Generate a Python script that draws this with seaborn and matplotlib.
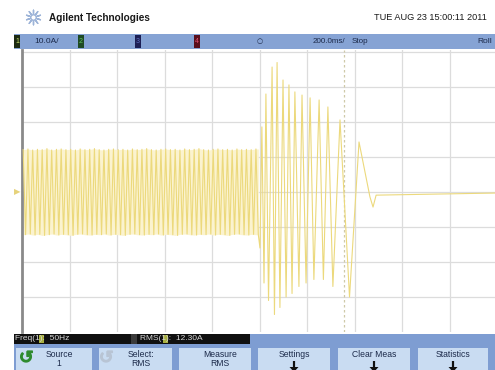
import numpy as np
import pandas as pd
import matplotlib
matplotlib.use("Agg")
import matplotlib.pyplot as plt
from matplotlib.patches import Rectangle, FancyArrow
import seaborn as sns

# ---------------- data ----------------
# steady 50 Hz current before the event: alternating peak / trough values (A)
steady_peaks = [12.1, 12.3, 12.0, 12.2, 12.1, 12.4, 12.0, 12.2, 12.3, 12.1,
                12.2, 12.0, 12.3, 12.1, 12.2, 12.4, 12.1, 12.0, 12.2, 12.3,
                12.1, 12.2, 12.0, 12.3, 12.1, 12.2, 12.4, 12.1, 12.0, 12.2,
                12.3, 12.1, 12.2, 12.0, 12.3, 12.1, 12.2, 12.4, 12.1, 12.0,
                12.2, 12.3, 12.1, 12.2, 12.0, 12.3, 12.1, 12.2, 12.1, 12.3]
steady_troughs = [-12.2, -12.0, -12.3, -12.1, -12.4, -12.2, -12.0, -12.3, -12.1, -12.2,
                  -12.4, -12.1, -12.0, -12.2, -12.3, -12.1, -12.2, -12.0, -12.3, -12.1,
                  -12.2, -12.4, -12.1, -12.0, -12.2, -12.3, -12.1, -12.2, -12.0, -12.3,
                  -12.1, -12.2, -12.4, -12.1, -12.0, -12.2, -12.3, -12.1, -12.2, -12.0,
                  -12.3, -12.1, -12.2, -12.4, -12.1, -12.0, -12.2, -12.3, -12.1, -12.2]
steady_start_ms = -995
half_period_ms = 10

# surge / run-down after the trigger (t = 0 ms): time (ms) and current (A)
surge_t = [2, 10, 19, 27, 38, 53, 63, 74, 86, 99, 112, 124, 137, 149, 166,
           179, 196, 213, 229, 251, 269, 288, 309, 339, 379, 419, 465, 478,
           491, 991]
surge_i = [-16.0, 18.6, -26.0, 28.0, -31.0, 35.7, -35.0, 37.0, -33.0, 32.0,
           -30.0, 30.6, -29.0, 28.6, -27.0, 27.7, -26.0, 26.9, -25.0, 26.3,
           -25.0, 24.3, -27.0, 20.6, -30.0, 14.3, -1.4, -4.3, -0.9, -0.3]

top_labels = ["10.0A/", "200.0ms/", "Stop", "Roll"]
buttons = [("Source", "1"), ("Select:", "RMS"), ("Measure", "RMS"),
           ("Settings", None), ("Clear Meas", None), ("Statistics", None)]

# ---------------- build trace ----------------
st_t, st_i = [], []
for k in range(len(steady_peaks)):
    st_t += [steady_start_ms + 2 * k * half_period_ms,
             steady_start_ms + (2 * k + 1) * half_period_ms]
    st_i += [steady_peaks[k], steady_troughs[k]]
df = pd.DataFrame({"t": st_t + surge_t, "i": st_i + surge_i})

# ---------------- figure ----------------
W, H = 495, 370
fig = plt.figure(figsize=(W / 100, H / 100), dpi=100)
fig.patch.set_facecolor("white")
FONT = ["Liberation Sans Narrow", "Liberation Sans", "DejaVu Sans"]
NAVY = "#1c2a4a"

deco = fig.add_axes([0, 0, 1, 1])
deco.set_xlim(0, W)
deco.set_ylim(H, 0)
deco.axis("off")

# header
deco.scatter([33], [17], marker=(10, 2, 0), s=110, color="#9DB4D8", lw=1.0)
deco.scatter([33], [17], marker="o", s=14, facecolor="white", edgecolor="#9DB4D8", lw=0.8)
deco.text(49, 18, "Agilent Technologies", fontsize=7.2, fontweight="bold",
          family=FONT, color="#1a1a1a", va="center")
deco.text(487, 18, "TUE AUG 23 15:00:11 2011", fontsize=6.6, family=FONT,
          color="#1a1a1a", va="center", ha="right")

# top status bar
deco.add_patch(Rectangle((14, 34), W - 14, 15, color="#86A3D4", lw=0))
deco.add_patch(Rectangle((14, 35), 6, 13, color="#1d2a12", lw=0))
deco.text(17, 41.5, "1", fontsize=5, color="#c8e070", ha="center", va="center", family=FONT)
deco.text(34, 41.5, top_labels[0], fontsize=6.0, color=NAVY, va="center", family=FONT)
for x0, col, lab, tc in [(78, "#1f4a24", "2", "#60c060"), (135, "#1c1f55", "3", "#6070c0"),
                         (194, "#5a0f1c", "4", "#e05070")]:
    deco.add_patch(Rectangle((x0, 35), 6, 13, color=col, lw=0))
    deco.text(x0 + 3, 41.5, lab, fontsize=5, color=tc, ha="center", va="center", family=FONT)
deco.text(260, 41.5, "\u25cb", fontsize=5, color=NAVY, ha="center", va="center")
deco.text(345, 41.5, top_labels[1], fontsize=5.8, color=NAVY, va="center", ha="right", family=FONT)
deco.text(352, 41.5, top_labels[2], fontsize=5.8, color=NAVY, va="center", family=FONT)
deco.text(477, 41.5, top_labels[3], fontsize=6.0, color=NAVY, va="center", family=FONT)

# bottom measurement strip + softkeys
deco.add_patch(Rectangle((14, 344), W - 14, H - 344, color="#7E9DD2", lw=0))
deco.add_patch(Rectangle((250, 334), W - 250, 10, color="#7E9DD2", lw=0))
deco.add_patch(Rectangle((14, 334), 117, 10, color="#101010", lw=0))
deco.add_patch(Rectangle((131, 334), 6, 10, color="#3a3a3a", lw=0))
deco.add_patch(Rectangle((137, 334), 113, 10, color="#101010", lw=0))
deco.add_patch(Rectangle((39, 335), 5, 8, color="#a8b040", lw=0))
deco.text(15, 339, "Freq(1):  50Hz", fontsize=6.0, color="#d8d8d8", va="center", family=FONT)
deco.add_patch(Rectangle((163, 335), 5, 8, color="#a8b040", lw=0))
deco.text(140, 339, "RMS(1):  12.30A", fontsize=6.0, color="#d8d8d8", va="center", family=FONT)

btn_x = [(16, 92), (99, 172), (179, 251), (258, 330), (338, 410), (418, 488)]
for (x0, x1), (l1, l2) in zip(btn_x, buttons):
    deco.add_patch(Rectangle((x0, 348), x1 - x0, H - 348, color="#C9DCF2", lw=0))
    cx = (x0 + x1) / 2 + (5 if x0 < 250 else 0)
    deco.text(cx, 354.5, l1, fontsize=6.2, color=NAVY, ha="center", va="center", family=FONT)
    if l2 is not None:
        deco.text(cx, 364, l2, fontsize=6.2, color=NAVY, ha="center", va="center", family=FONT)
    else:
        deco.add_patch(FancyArrow(cx, 361, 0, 6, width=2.2, head_width=9,
                                  head_length=5, color="#111111", lw=0))
deco.scatter([26], [356], marker=r"$\circlearrowleft$", s=70, color="#2e8b2e")
deco.scatter([106], [356], marker=r"$\circlearrowleft$", s=70, color="#b8c4d4")

# ---------------- scope screen ----------------
x_left, x_right, y_top, y_bot = 22, W, 50, 332
ax = fig.add_axes([x_left / W, (H - y_bot) / H, (x_right - x_left) / W, (y_bot - y_top) / H])
px_per_ms = 0.2375
px_per_A = 3.5
ax.set_xlim(-1000, -1000 + (x_right - x_left) / px_per_ms)
ax.set_ylim(-40, -40 + (y_bot - y_top) / px_per_A)
ax.set_facecolor("white")
for v in range(-800, 1000, 200):
    ax.axvline(v, color="#DCDCDC", lw=0.9, zorder=0)
for h in range(-30, 50, 10):
    ax.axhline(h, color="#DCDCDC", lw=0.9, zorder=0)
ax.axvline(356, color="#CFC9A8", lw=0.9, ls=(0, (2, 2)), zorder=1)

# persistence glow of the dense steady band
pk_t = st_t[0::2]
ax.fill_between(pk_t + [st_t[-1]], steady_peaks + [steady_peaks[-1]],
                steady_troughs + [steady_troughs[-1]], color="#FBF3CF", lw=0, zorder=2)

sns.lineplot(data=df, x="t", y="i", sort=False, estimator=None, ax=ax,
             color="#ECD97C", lw=0.8, zorder=3)

for s in ["top", "right", "bottom"]:
    ax.spines[s].set_visible(False)
ax.spines["left"].set_color("#8a8a8a")
ax.spines["left"].set_linewidth(2)
ax.set_xticks([])
ax.set_yticks([])
ax.set_xlabel("")
ax.set_ylabel("")

# ground reference marker
deco.text(17, 192, "\u25b6", fontsize=6, color="#E6D27A", ha="center", va="center")

fig.savefig("out.png", dpi=100, facecolor="white")
